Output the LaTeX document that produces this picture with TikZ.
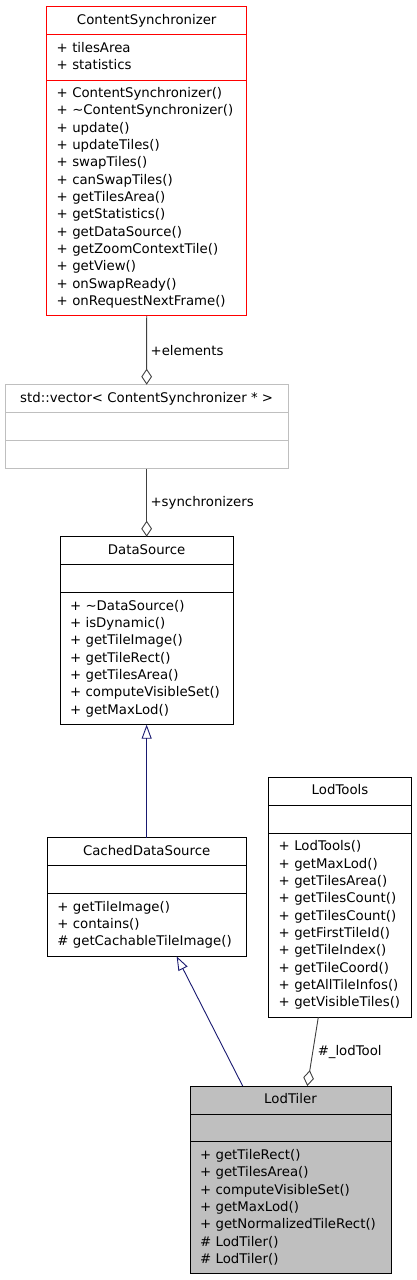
\documentclass[tikz,border=0pt]{standalone}
\usepackage{fontspec}
\setmainfont{DejaVu Sans}
\usetikzlibrary{positioning,arrows.meta}

\definecolor{edgegrey}{HTML}{404040}
\definecolor{inhblue}{HTML}{191970}
\definecolor{lightgrey}{HTML}{BFBFBF}

\tikzset{
	part/.style={draw, line width=1pt, inner xsep=10pt, inner ysep=5.33pt, outer sep=0pt, anchor=north west,
		font=\fontsize{13.3}{17.33}\selectfont, execute at begin node=\strut, execute at end node=\strut},
	head/.style={part, align=center},
	body/.style={part, align=left},
	under/.style={below=0pt of #1.south west, anchor=north west},
	agg/.style={edgegrey, line width=0.9pt, -{Diamond[open, length=16pt, width=10.7pt]}},
	inh/.style={inhblue, line width=0.9pt, -{Triangle[open, length=14pt, width=10pt]}},
	lbl/.style={right, text=black, inner sep=3.5pt, font=\fontsize{13.3}{17.33}\selectfont},
}

\begin{document}
\begin{tikzpicture}[x=1pt, y=-1pt]
		\useasboundingbox (0,0) rectangle (416,1280);
		
		% Nodes
		\node[head, draw=red, minimum width=200pt] (cs) at (46.7, 6.7) {ContentSynchronizer};
		\node[body, draw=red, text width=180pt, under=cs] (csA) {+ tilesArea\\+ statistics};
		\node[body, draw=red, text width=180pt, under=csA] (csO) {+ ContentSynchronizer()\\+ \textasciitilde ContentSynchronizer()\\+ update()\\+ updateTiles()\\+ swapTiles()\\+ canSwapTiles()\\+ getTilesArea()\\+ getStatistics()\\+ getDataSource()\\+ getZoomContextTile()\\+ getView()\\+ onSwapReady()\\+ onRequestNextFrame()};
		
		\node[head, draw=lightgrey, minimum width=283.3pt] (vec) at (5, 384.7) {std::vector< ContentSynchronizer * >};
		\node[part, draw=lightgrey, minimum width=283.3pt, under=vec] (vecA) {};
		\node[part, draw=lightgrey, minimum width=283.3pt, under=vecA] (vecO) {};
		
		\node[head, minimum width=173.3pt] (ds) at (60, 536.7) {DataSource};
		\node[part, minimum width=173.3pt, under=ds] (dsA) {};
		\node[body, text width=153.3pt, under=dsA] (dsO) {+ \textasciitilde DataSource()\\+ isDynamic()\\+ getTileImage()\\+ getTileRect()\\+ getTilesArea()\\+ computeVisibleSet()\\+ getMaxLod()};
		
		\node[head, minimum width=198.7pt] (cds) at (47.3, 837.7) {CachedDataSource};
		\node[part, minimum width=198.7pt, under=cds] (cdsA) {};
		\node[body, text width=178.7pt, under=cdsA] (cdsO) {+ getTileImage()\\+ contains()\\\# getCachableTileImage()};
		
		\node[head, minimum width=142.6pt] (tools) at (268.7, 777.3) {LodTools};
		\node[part, minimum width=142.6pt, under=tools] (toolsA) {};
		\node[body, text width=122.6pt, under=toolsA] (toolsO) {+ LodTools()\\+ getMaxLod()\\+ getTilesArea()\\+ getTilesCount()\\+ getTilesCount()\\+ getFirstTileId()\\+ getTileIndex()\\+ getTileCoord()\\+ getAllTileInfos()\\+ getVisibleTiles()};
		
		\node[head, fill=lightgrey, minimum width=201pt] (tiler) at (190, 1086) {LodTiler};
		\node[part, fill=lightgrey, minimum width=201pt, under=tiler] (tilerA) {};
		\node[body, fill=lightgrey, text width=181pt, under=tilerA] (tilerO) {+ getTileRect()\\+ getTilesArea()\\+ computeVisibleSet()\\+ getMaxLod()\\+ getNormalizedTileRect()\\\# LodTiler()\\\# LodTiler()};
		
		% Lines
		\draw[agg] (csO.south) -- (vec.north) node[lbl, midway] {+elements};
		\draw[agg] (vecO.south) -- (ds.north) node[lbl, midway] {+synchronizers};
		
		\draw[inh] (cds.north) -- (dsO.south);
		\draw[inh] ([xshift=-47.8pt]tiler.north) -- ([xshift=30pt]cdsO.south);
		
		\draw[agg] ([xshift=-21.7pt]toolsO.south) -- ([xshift=16.8pt]tiler.north) node[lbl, midway, xshift=1pt] {\#\_lodTool};
		
	\end{tikzpicture}
\end{document}
